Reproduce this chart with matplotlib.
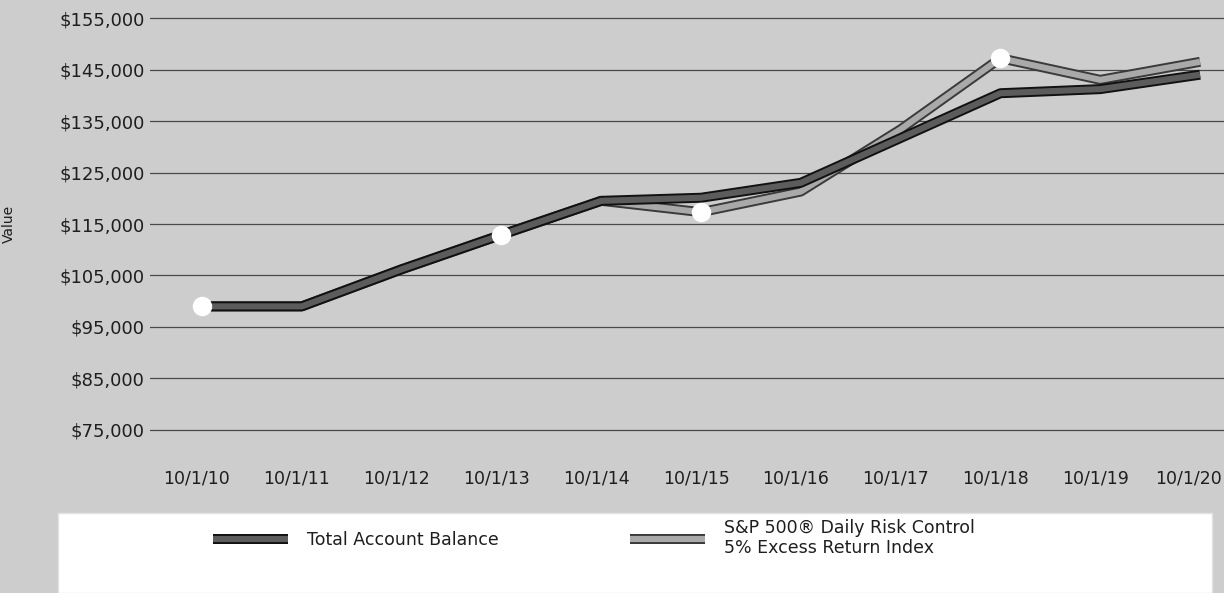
import matplotlib.pyplot as plt
import matplotlib.patheffects as pe
import matplotlib.transforms as mtransforms
from matplotlib.patches import Rectangle

plt.rcParams['font.family'] = ['DejaVu Sans']

dates = ['10/1/10', '10/1/11', '10/1/12', '10/1/13', '10/1/14', '10/1/15',
         '10/1/16', '10/1/17', '10/1/18', '10/1/19', '10/1/20']
total_balance = [99000, 99000, 106200, 112900, 119500, 120100,
                 123000, 131700, 140400, 141200, 144000]
index_values = [99000, 99000, 106200, 112900, 119500, 117300,
                121300, 133400, 147200, 143000, 146500]
marked_points = [0, 3, 5, 8]
y_ticks = [75000, 85000, 95000, 105000, 115000, 125000, 135000, 145000, 155000]

bg = '#cdcdcd'
text_color = '#1e1e1e'

fig = plt.figure(figsize=(12.24, 5.93), dpi=100, facecolor=bg)
ax = fig.add_axes([150 / 1224, 1 - 432 / 593, 1 - 150 / 1224, 416 / 593])
ax.set_facecolor(bg)

x = list(range(len(dates)))

idx_line, = ax.plot(x, index_values, color='#a9a9a9', lw=4.4, zorder=3,
                    solid_capstyle='butt', solid_joinstyle='round',
                    path_effects=[pe.Stroke(linewidth=7.2, foreground='#3a3a3a'), pe.Normal()])
tot_line, = ax.plot(x, total_balance, color='#5c5c5c', lw=4.4, zorder=4,
                    solid_capstyle='butt', solid_joinstyle='round',
                    path_effects=[pe.Stroke(linewidth=7.2, foreground='#111111'), pe.Normal()])

# white dots on the index series
ax.plot([x[i] for i in marked_points], [index_values[i] for i in marked_points],
        linestyle='none', marker='o', markersize=14, color='white',
        markeredgewidth=0, zorder=5)

ax.set_xlim(-0.521, 10.24)
ax.set_ylim(74600, 155400)
ax.set_xticks(x)
ax.set_xticklabels(dates)
ax.set_yticks(y_ticks)
ax.set_yticklabels([f'${v:,}' for v in y_ticks])
ax.tick_params(axis='both', length=0, labelsize=13, labelcolor=text_color)
ax.tick_params(axis='x', pad=27, labelsize=12.5)
ax.tick_params(axis='y', pad=4)
ax.grid(axis='y', color='#4a4a4a', lw=0.9, zorder=1)
ax.set_axisbelow(True)
for s in ax.spines.values():
    s.set_visible(False)

# date labels sit a little left of their points; last one kept inside the edge
xlabels = ax.get_xticklabels()
for lab in xlabels[:-1]:
    lab.set_transform(lab.get_transform() +
                      mtransforms.ScaledTranslation(-5 / 100, 0, fig.dpi_scale_trans))
xlabels[-1].set_horizontalalignment('right')
xlabels[-1].set_transform(xlabels[-1].get_transform() +
                          mtransforms.ScaledTranslation(22 / 100, 0, fig.dpi_scale_trans))

ax.set_ylabel('Value', fontsize=10, color=text_color)
ax.yaxis.set_label_coords(-134 / 1074, 0.5)

# white legend panel at the bottom
fig.add_artist(Rectangle((58 / 1224, 0), (1212 - 58) / 1224, 80 / 593,
                         transform=fig.transFigure, facecolor='white',
                         edgecolor='#e2e2e2', lw=1, zorder=0))

fig.legend(handles=[tot_line, idx_line],
           labels=['Total Account Balance',
                   'S&P 500® Daily Risk Control\n5% Excess Return Index'],
           loc='center left', bbox_to_anchor=(213 / 1224, 1 - 538 / 593),
           ncol=2, frameon=False, fontsize=12.5, handlelength=4.3,
           handletextpad=1.1, columnspacing=7.6, borderpad=0,
           borderaxespad=0, labelcolor=text_color)

fig.savefig('out.png', dpi=100, facecolor=bg)
